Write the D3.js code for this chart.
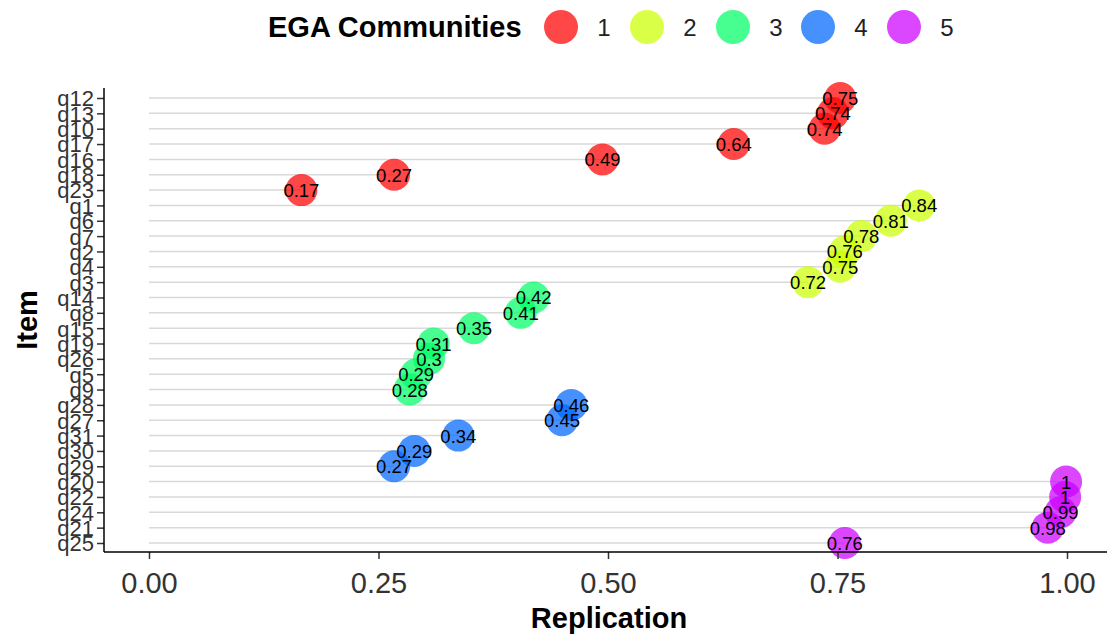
<!DOCTYPE html>
<html><head><meta charset="utf-8">
<script src="https://cdn.jsdelivr.net/npm/d3@7"></script>
<style>body{margin:0;background:#fff;} text{font-family:"Liberation Sans",Arial,sans-serif;}</style>
</head><body><svg id="c" width="1107" height="637"></svg>
<script>
const items = ["q12","q13","q10","q17","q16","q18","q23","q1","q6","q7","q2","q4","q3","q14","q8","q15","q19","q26","q5","q9","q28","q27","q31","q30","q29","q20","q22","q24","q21","q25"];
const replication = [0.753,0.745,0.736,0.637,0.494,0.267,0.166,0.839,0.808,0.776,0.758,0.753,0.718,0.419,0.405,0.354,0.31,0.305,0.291,0.284,0.46,0.45,0.337,0.289,0.267,0.999,0.998,0.993,0.979,0.758];
const community = [1,1,1,1,1,1,1,2,2,2,2,2,2,3,3,3,3,3,3,3,4,4,4,4,4,5,5,5,5,5];
const communities = [1,2,3,4,5];
const colors = ["#FF0000","#CCFF00","#00FF66","#0066FF","#CC00FF"];
const xTicks = [0,0.25,0.5,0.75,1];

const svg = d3.select("#c");
const L = 104, R = 1107, T = 88, B = 552;
const x = d3.scaleLinear().domain([0,1]).range([149,1067]);
const y = d3.scalePoint().domain(items).range([98,543]);
const col = d3.scaleOrdinal().domain(communities).range(colors);
const data = items.map((d,i)=>({item:d,v:replication[i],c:community[i]}));

const g = svg.append("g");
g.selectAll("line.seg").data(data).enter().append("line")
  .attr("x1",x(0)).attr("x2",d=>x(d.v))
  .attr("y1",d=>y(d.item)).attr("y2",d=>y(d.item))
  .attr("stroke","#d9d9d9").attr("stroke-width",1.5);
g.selectAll("circle").data(data).enter().append("circle")
  .attr("cx",d=>x(d.v)).attr("cy",d=>y(d.item)).attr("r",16)
  .attr("fill",d=>col(d.c)).attr("fill-opacity",0.72);
g.selectAll("text.lab").data(data).enter().append("text")
  .attr("x",d=>x(d.v)).attr("y",d=>y(d.item)+7)
  .attr("text-anchor","middle")
  .attr("font-size",18.5).attr("fill","#000")
  .text(d=>String(+d.v.toFixed(2)));

const xa = svg.append("g").attr("transform",`translate(0,${B})`)
  .call(d3.axisBottom(x).tickValues(xTicks).tickFormat(d3.format(".2f")).tickSize(7).tickSizeOuter(0));
xa.select(".domain").remove();
xa.selectAll(".tick line").attr("stroke","#333").attr("stroke-width",1.5);
xa.selectAll(".tick text").attr("font-size",29).attr("fill","#333").attr("y",41).attr("dy",0);
svg.append("line").attr("x1",L).attr("x2",R).attr("y1",B).attr("y2",B).attr("stroke","#000").attr("stroke-width",1.5);

const ya = svg.append("g").attr("transform",`translate(${L},0)`)
  .call(d3.axisLeft(y).tickSize(7).tickSizeOuter(0));
ya.select(".domain").remove();
ya.selectAll(".tick line").attr("stroke","#333").attr("stroke-width",1.5);
ya.selectAll(".tick text").attr("font-size",22).attr("fill","#333").attr("x",-10).attr("dy","0.36em");
svg.append("line").attr("x1",L).attr("x2",L).attr("y1",T).attr("y2",B).attr("stroke","#000").attr("stroke-width",1.5);

svg.append("text").attr("x",609).attr("y",628).attr("text-anchor","middle")
  .attr("font-size",29).attr("font-weight","bold").text("Replication");
svg.append("text").attr("transform","translate(37,320) rotate(-90)").attr("text-anchor","middle")
  .attr("font-size",29).attr("font-weight","bold").text("Item");

svg.append("text").attr("x",268).attr("y",37).attr("font-size",29).attr("font-weight","bold").text("EGA Communities");
const lx = [561,647,733,818,904];
const lg = svg.selectAll("g.leg").data(communities).enter().append("g")
  .attr("transform",(d,i)=>`translate(${lx[i]},27)`);
lg.append("circle").attr("r",17).attr("fill",d=>col(d)).attr("fill-opacity",0.72);
lg.append("text").attr("x",43).attr("y",9).attr("text-anchor","middle").attr("font-size",24).attr("fill","#222").text(d=>d);
</script></body></html>
